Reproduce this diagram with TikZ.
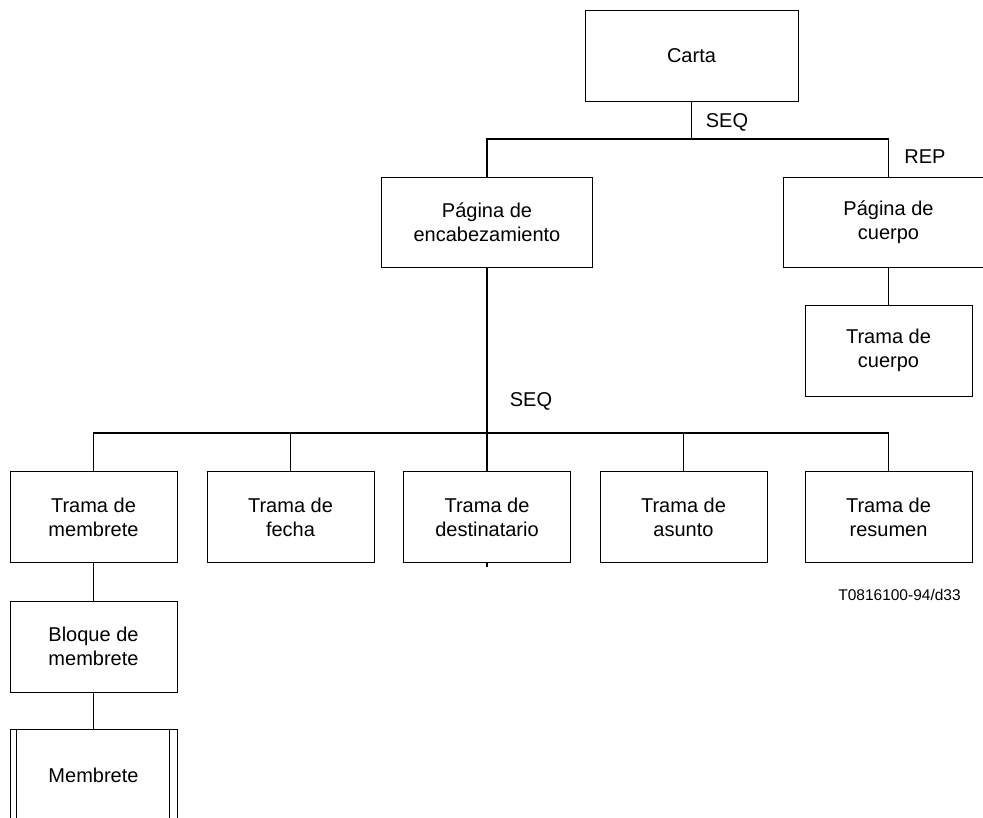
\documentclass[tikz,border=0pt]{standalone}
\usepackage{fontspec}
\setmainfont{Liberation Sans}
\begin{document}
\begin{tikzpicture}[x=1pt,y=-1pt,
  box/.style={draw, line width=1pt, rectangle, align=center, inner sep=0pt,
              font=\fontsize{20}{24}\selectfont},
  widebox/.style={box, minimum width=211pt, minimum height=90pt},
  smallbox/.style={box, minimum width=167pt, minimum height=91pt},
  link/.style={line width=1.6pt},
  tag/.style={font=\fontsize{20}{24}\selectfont, inner sep=0pt}]
  \useasboundingbox (0,0) rectangle (983,817);
  \clip (0,0) rectangle (983,817);

  % top level
  \node[box, minimum width=213pt, minimum height=91pt] (carta) at (691.5,55.5) {Carta};
  \node[widebox] (enc) at (487,222) {Página de\\encabezamiento};
  \node[widebox] (pcuerpo) at (888.5,222) {Página de\\cuerpo};
  \node[smallbox] (tcuerpo) at (888.5,350.5) {Trama de\\cuerpo};

  % frames of the header page
  \node[smallbox] (tmemb) at (93.5,517) {Trama de\\membrete};
  \node[smallbox] (tfecha) at (290.5,517) {Trama de\\fecha};
  \node[smallbox] (tdest) at (487,517) {Trama de\\destinatario};
  \node[smallbox] (tasunto) at (683.5,517) {Trama de\\asunto};
  \node[smallbox] (tres) at (888.5,517) {Trama de\\resumen};

  % letterhead chain
  \node[smallbox] (bloque) at (93.5,646.5) {Bloque de\\membrete};
  \node[smallbox, minimum height=92pt] (memb) at (93.5,775) {Membrete};
  \draw[line width=1pt] ([xshift=7pt]memb.north west) -- ([xshift=7pt]memb.south west);
  \draw[line width=1pt] ([xshift=-8pt]memb.north east) -- ([xshift=-8pt]memb.south east);

  % junction points
  \coordinate (j1) at (691.5,139);
  \coordinate (j2) at (487,433);
  \coordinate (stub) at (487,567);

  % connectors
  \draw[link] (carta.south) -- (j1);
  \draw[link] (enc.north) |- (j1) -| (pcuerpo.north);
  \draw[link] (pcuerpo.south) -- (tcuerpo.north);
  \draw[link] (enc.south) -- (tdest.north);
  \draw[link] (tmemb.north) |- (j2) -| (tres.north);
  \draw[link] (tfecha.north) -- (tfecha.north |- j2);
  \draw[link] (tasunto.north) -- (tasunto.north |- j2);
  \draw[link] (tdest.south) -- (stub);
  \draw[link] (tmemb.south) -- (bloque.north);
  \draw[link] (bloque.south) -- (memb.north);

  % constructor labels
  \node[tag] (seq1) at (727,122) {SEQ};
  \node[tag] (rep) at (925,157) {REP};
  \node[tag] (seq2) at (531,401) {SEQ};
  \node[font=\fontsize{15.5}{18}\selectfont, inner sep=0pt] (ref) at (899.5,595) {T0816100-94/d33};
\end{tikzpicture}
\end{document}
